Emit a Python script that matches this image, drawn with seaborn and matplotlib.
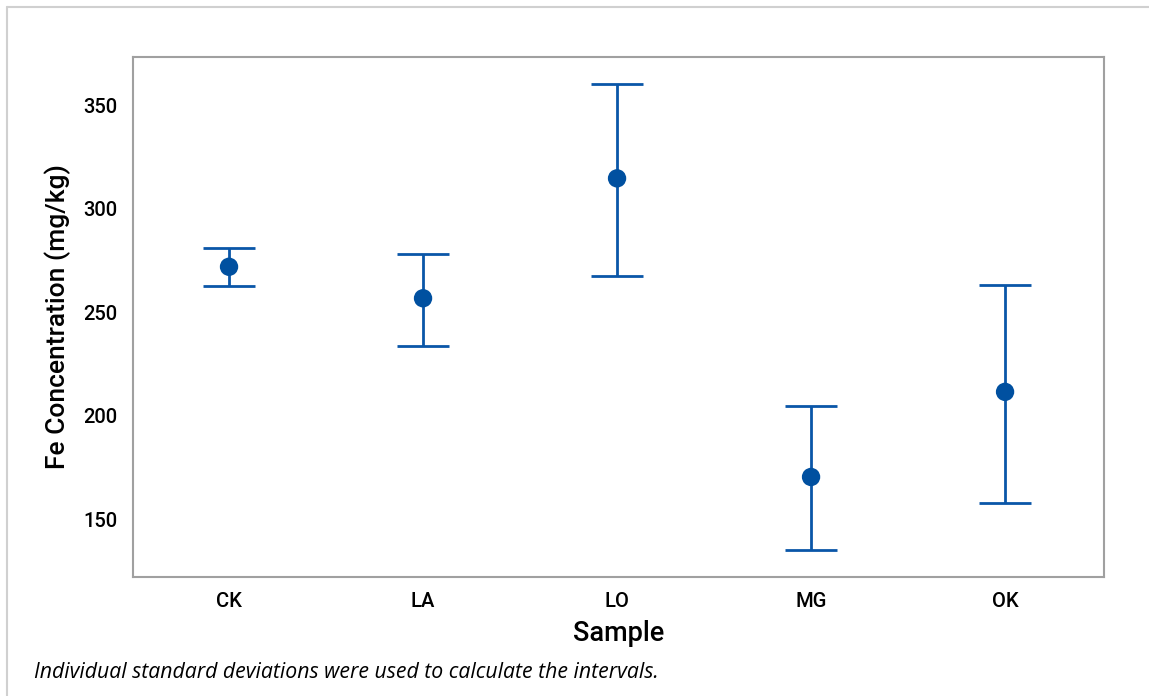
import matplotlib
matplotlib.use('Agg')
import matplotlib.pyplot as plt
import pandas as pd
import seaborn as sns
from matplotlib.lines import Line2D

# Interval plot values
samples = ['CK', 'LA', 'LO', 'MG', 'OK']
means = [271.9, 256.7, 314.6, 170.4, 211.5]
lower = [262.6, 233.7, 267.6, 135.2, 157.9]
upper = [281.0, 278.2, 360.3, 204.7, 263.1]
y_ticks = [150, 200, 250, 300, 350]

df = pd.DataFrame({'Sample': samples, 'mean': means, 'lo': lower, 'hi': upper})

sns.set_style('white')
plt.rcParams['font.family'] = ['Roboto', 'DejaVu Sans']
plt.rcParams['text.color'] = 'black'
plt.rcParams['axes.labelcolor'] = 'black'

blue = '#0a56a8'
grey = '#a0a0a0'

fig = plt.figure(figsize=(11.49, 6.96), dpi=100)
ax = fig.add_axes([133 / 1149, 1 - 577 / 696, (1104 - 133) / 1149, (577 - 57) / 696])

ax.errorbar(x=range(len(df)), y=df['mean'],
            yerr=[df['mean'] - df['lo'], df['hi'] - df['mean']],
            fmt='none', ecolor=blue, elinewidth=2, capsize=19, capthick=2, zorder=2)
sns.scatterplot(data=df, x='Sample', y='mean', ax=ax, color='#0050a0', s=175,
                edgecolor='none', zorder=3)

ax.set_xlim(-0.495, 4.51)
ax.set_ylim(122.1, 373.2)
ax.set_yticks(y_ticks)
ax.set_xticks(range(len(samples)))
ax.set_xticklabels(samples)

for s in ax.spines.values():
    s.set_color(grey)
    s.set_linewidth(1.5)
ax.tick_params(axis='both', direction='out', length=5, width=1.2, color=grey,
               labelsize=14.5, labelcolor='black', pad=6)
for lbl in ax.get_xticklabels() + ax.get_yticklabels():
    lbl.set_fontweight('medium')

ax.set_xlabel('Sample', fontsize=19.5, fontweight='medium', labelpad=6)
ax.set_ylabel('Fe Concentration (mg/kg)', fontsize=19, fontweight='medium', labelpad=9)

fig.text(34 / 1149, 1 - 672 / 696, 'Individual standard deviations were used to calculate the intervals.',
         fontsize=15.3, style='italic', va='center', ha='left', family=['Open Sans', 'DejaVu Sans'])

# light outer frame (top and left edges)
fig.add_artist(Line2D([7 / 1149, 1], [1 - 7 / 696, 1 - 7 / 696], transform=fig.transFigure,
                      color='#d0d0d0', linewidth=1.5))
fig.add_artist(Line2D([7 / 1149, 7 / 1149], [0, 1 - 7 / 696], transform=fig.transFigure,
                      color='#d0d0d0', linewidth=1.5))

fig.savefig('out.png', dpi=100)
